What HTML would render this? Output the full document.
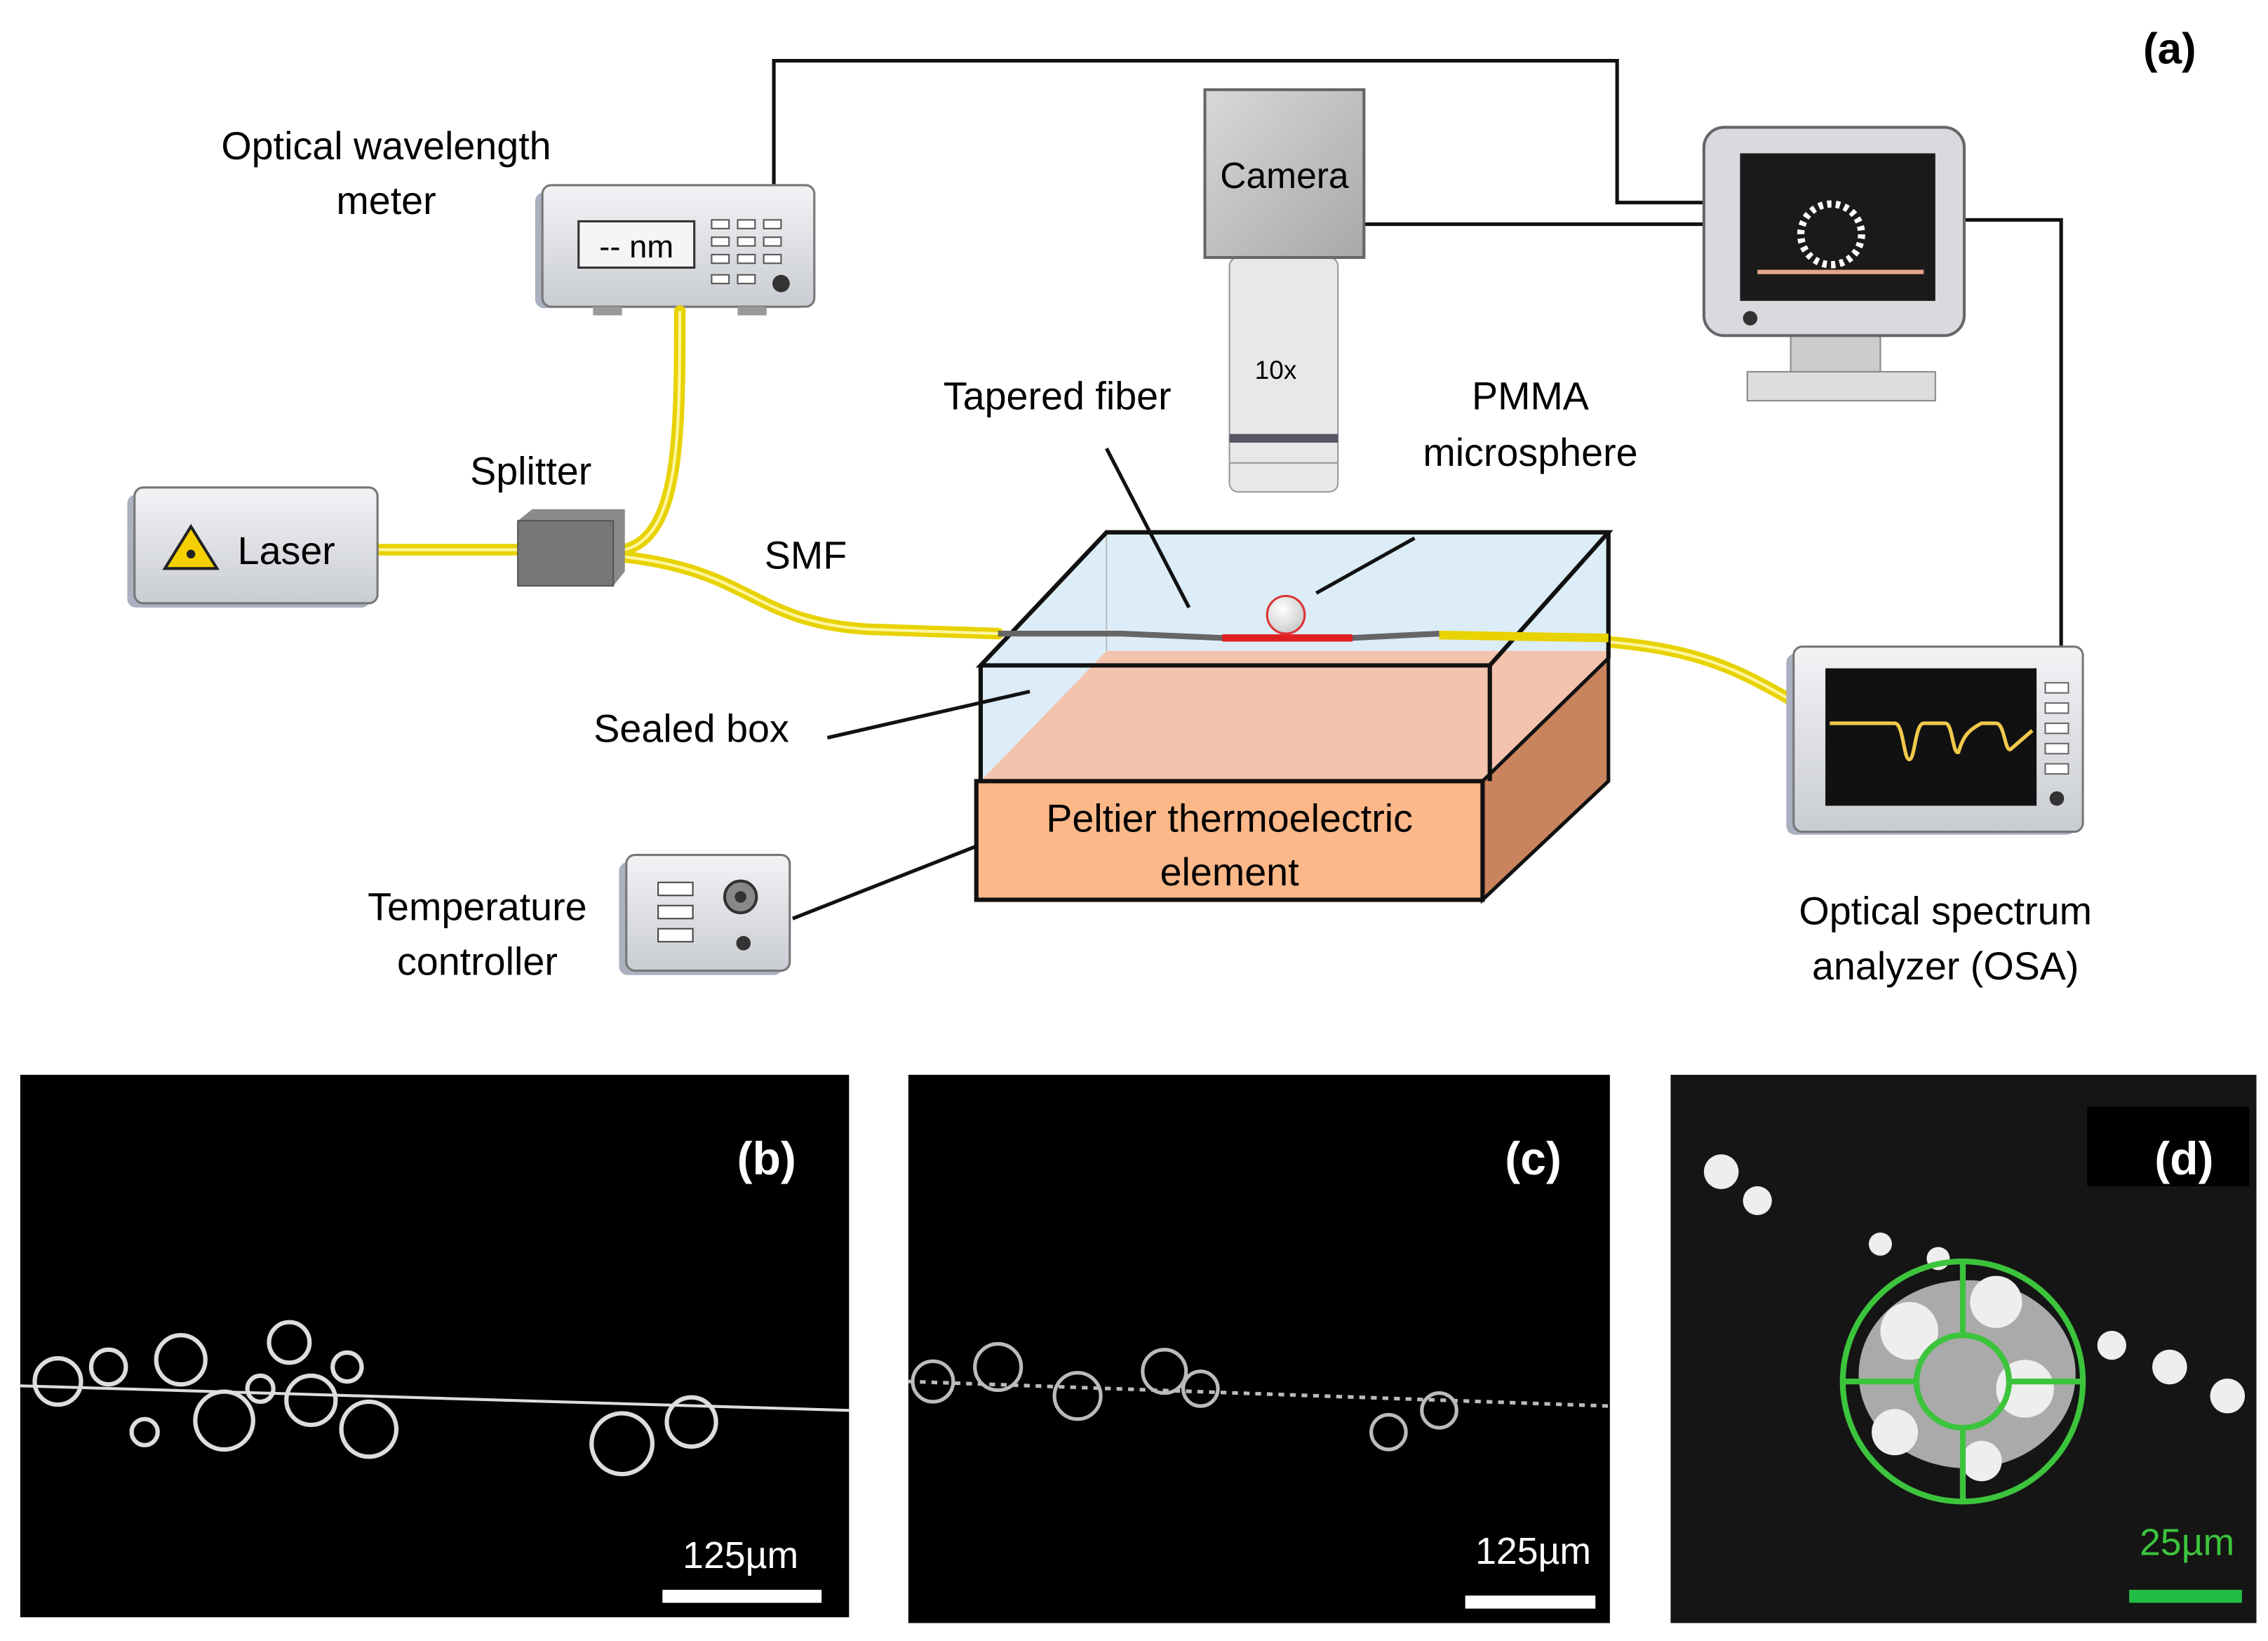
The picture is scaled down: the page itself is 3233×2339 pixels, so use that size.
<!DOCTYPE html>
<html><head><meta charset="utf-8"><style>
html,body{margin:0;padding:0;background:#fff;}
svg{display:block;}
text{font-family:"Liberation Sans",sans-serif;}
</style></head><body>
<svg width="3233" height="2339" viewBox="0 0 1568 1134.4" preserveAspectRatio="none" xmlns="http://www.w3.org/2000/svg">
<defs>
<linearGradient id="dev" x1="0" y1="0" x2="0" y2="1"><stop offset="0" stop-color="#f2f3f5"/><stop offset="1" stop-color="#c9ccd2"/></linearGradient>
<linearGradient id="cam" x1="0" y1="0" x2="1" y2="1"><stop offset="0" stop-color="#d8d8d8"/><stop offset="1" stop-color="#a8a8a8"/></linearGradient>
<radialGradient id="sph" cx="0.4" cy="0.35" r="0.7"><stop offset="0" stop-color="#fff"/><stop offset="1" stop-color="#c8c8c8"/></radialGradient>
</defs>
<rect width="1568" height="1135" fill="#fff"/>
<text x="1500" y="44" font-size="30" font-weight="bold" text-anchor="middle">(a)</text>

<!-- wires -->
<g stroke="#111" stroke-width="2.5" fill="none">
<polyline points="535,128 535,42 1118,42 1118,140 1180,140"/>
<polyline points="943,155 1180,155"/>
<polyline points="1358,152 1425,152 1425,447"/>
<line x1="548" y1="635" x2="675" y2="585"/>
</g>

<!-- wavelength meter -->
<rect x="370" y="133" width="188" height="80" rx="6" fill="#aab0c0"/>
<rect x="375" y="128" width="188" height="84" rx="6" fill="url(#dev)" stroke="#777" stroke-width="1.5"/>
<rect x="400" y="153" width="80" height="32" fill="#f5f5f5" stroke="#333" stroke-width="1.5"/>
<text x="440" y="178" font-size="22" text-anchor="middle">-- nm</text>
<g fill="#fff" stroke="#555" stroke-width="1">
<rect x="492" y="152" width="12" height="6"/><rect x="510" y="152" width="12" height="6"/><rect x="528" y="152" width="12" height="6"/>
<rect x="492" y="164" width="12" height="6"/><rect x="510" y="164" width="12" height="6"/><rect x="528" y="164" width="12" height="6"/>
<rect x="492" y="176" width="12" height="6"/><rect x="510" y="176" width="12" height="6"/><rect x="528" y="176" width="12" height="6"/>
<rect x="492" y="190" width="12" height="6"/><rect x="510" y="190" width="12" height="6"/>
</g>
<circle cx="540" cy="196" r="6" fill="#333"/>
<rect x="410" y="212" width="20" height="6" fill="#999"/><rect x="510" y="212" width="20" height="6" fill="#999"/>
<text x="267" y="110" font-size="27" text-anchor="middle">Optical wavelength</text>
<text x="267" y="148" font-size="27" text-anchor="middle">meter</text>

<!-- camera -->
<rect x="850" y="178" width="75" height="162" rx="6" fill="#e8e8ea" stroke="#999"/>
<rect x="850" y="300" width="75" height="6" fill="#556"/>
<line x1="850" y1="320" x2="925" y2="320" stroke="#999"/>
<rect x="833" y="62" width="110" height="116" fill="url(#cam)" stroke="#666" stroke-width="2"/>
<text x="888" y="130" font-size="25" text-anchor="middle">Camera</text>
<text x="882" y="262" font-size="18" text-anchor="middle">10x</text>

<!-- monitor -->
<rect x="1238" y="230" width="62" height="30" fill="#ccc" stroke="#888"/>
<rect x="1208" y="257" width="130" height="20" fill="#ddd" stroke="#888"/>
<rect x="1178" y="88" width="180" height="144" rx="14" fill="#d8dadf" stroke="#666" stroke-width="2"/>
<rect x="1203" y="106" width="135" height="102" fill="#1a1a1a"/>
<line x1="1215" y1="188" x2="1330" y2="188" stroke="#e8a58a" stroke-width="3"/>
<circle cx="1266" cy="162" r="21" fill="none" stroke="#fff" stroke-width="5" stroke-dasharray="3 3"/>
<circle cx="1210" cy="220" r="5" fill="#333"/>

<!-- yellow fibers -->
<g stroke="#e8d200" stroke-width="8" fill="none" stroke-linecap="round">
<line x1="260" y1="380" x2="360" y2="380"/>
<path d="M432,380 C470,370 470,300 470,215"/>
<path d="M432,385 C520,395 520,430 600,435 L690,438"/>
<path d="M995,440 C1150,440 1180,450 1240,485"/>
</g>
<g stroke="#fff6a0" stroke-width="2" fill="none">
<line x1="260" y1="380" x2="360" y2="380"/>
<path d="M432,380 C470,370 470,300 470,215"/>
<path d="M432,385 C520,395 520,430 600,435 L690,438"/>
<path d="M995,440 C1150,440 1180,450 1240,485"/>
</g>

<!-- laser -->
<rect x="88" y="342" width="168" height="78" rx="6" fill="#aab0c0"/>
<rect x="93" y="337" width="168" height="80" rx="6" fill="url(#dev)" stroke="#777" stroke-width="1.5"/>
<polygon points="132,364 114,393 150,393" fill="#f5d000" stroke="#222" stroke-width="2"/>
<circle cx="132" cy="383" r="3" fill="#222"/>
<text x="198" y="390" font-size="27" text-anchor="middle">Laser</text>

<!-- splitter -->
<polygon points="358,360 368,352 432,352 432,395 424,405 358,405" fill="#8a8a8a"/>
<rect x="358" y="360" width="66" height="45" fill="#777" stroke="#555"/>
<text x="367" y="335" font-size="27" text-anchor="middle">Splitter</text>
<text x="557" y="393" font-size="27" text-anchor="middle">SMF</text>

<!-- box -->
<polygon points="765,368 1112,368 1030,460 678,460" fill="#dcedf7"/>
<polygon points="678,460 1030,460 1030,540 678,540" fill="#dcedf7"/>
<polygon points="1030,460 1112,368 1112,455 1030,540" fill="#dcedf7"/>
<polygon points="765,450 1112,450 1112,455 1030,540 678,540" fill="#f4c3ae"/>
<polygon points="1025,540 1112,455 1112,540 1025,622" fill="#c9835d" stroke="#111" stroke-width="2.5"/>
<rect x="675" y="540" width="350" height="82" fill="#fdb88a" stroke="#111" stroke-width="3"/>
<text x="850" y="575" font-size="27" text-anchor="middle">Peltier thermoelectric</text>
<text x="850" y="612" font-size="27" text-anchor="middle">element</text>
<line x1="765" y1="368" x2="765" y2="450" stroke="#bbb"/>
<g stroke="#111" stroke-width="3" fill="none">
<polygon points="765,368 1112,368 1030,460 678,460"/>
<line x1="678" y1="460" x2="678" y2="540"/>
<line x1="1030" y1="460" x2="1030" y2="540"/>
<line x1="1112" y1="368" x2="1112" y2="455"/>
</g>
<g stroke="#e8d200" stroke-width="6" fill="none"><line x1="995" y1="439" x2="1112" y2="441"/></g>
<path d="M690,438 L775,438 L845,441 L935,441 L995,438" stroke="#666" stroke-width="4" fill="none"/>
<line x1="845" y1="441" x2="935" y2="441" stroke="#e02020" stroke-width="5"/>
<circle cx="889" cy="425" r="13" fill="url(#sph)" stroke="#d33" stroke-width="1.5"/>
<g stroke="#111" stroke-width="2.5" fill="none">
<line x1="572" y1="510" x2="712" y2="478"/>
<line x1="765" y1="310" x2="822" y2="420"/>
<line x1="978" y1="372" x2="910" y2="410"/>
</g>
<text x="731" y="283" font-size="27" text-anchor="middle">Tapered fiber</text>
<text x="1058" y="283" font-size="27" text-anchor="middle">PMMA</text>
<text x="1058" y="322" font-size="27" text-anchor="middle">microsphere</text>
<text x="478" y="513" font-size="27" text-anchor="middle">Sealed box</text>

<!-- temp controller -->
<rect x="428" y="596" width="113" height="78" rx="6" fill="#aab0c0"/>
<rect x="433" y="591" width="113" height="80" rx="6" fill="url(#dev)" stroke="#777" stroke-width="1.5"/>
<g fill="#fff" stroke="#444"><rect x="455" y="610" width="24" height="9"/><rect x="455" y="626" width="24" height="9"/><rect x="455" y="642" width="24" height="9"/></g>
<circle cx="512" cy="620" r="11" fill="#888" stroke="#333" stroke-width="2"/><circle cx="512" cy="620" r="4" fill="#333"/>
<circle cx="514" cy="652" r="5" fill="#333"/>
<text x="330" y="636" font-size="27" text-anchor="middle">Temperature</text>
<text x="330" y="674" font-size="27" text-anchor="middle">controller</text>

<!-- OSA -->
<rect x="1235" y="452" width="200" height="125" rx="6" fill="#aab0c0"/>
<rect x="1240" y="447" width="200" height="128" rx="6" fill="url(#dev)" stroke="#777" stroke-width="1.5"/>
<rect x="1262" y="462" width="146" height="95" fill="#111"/>
<path d="M1265,500 L1310,500 C1316,500 1316,525 1320,525 C1324,525 1324,500 1330,500 L1345,500 C1350,500 1350,522 1354,520 C1357,510 1360,505 1370,500 L1380,500 C1386,500 1386,520 1390,518 L1405,505" stroke="#f2c94c" stroke-width="2.5" fill="none"/>
<g fill="#fff" stroke="#666"><rect x="1414" y="472" width="16" height="7"/><rect x="1414" y="486" width="16" height="7"/><rect x="1414" y="500" width="16" height="7"/><rect x="1414" y="514" width="16" height="7"/><rect x="1414" y="528" width="16" height="7"/></g>
<circle cx="1422" cy="552" r="5" fill="#333"/>
<text x="1345" y="639" font-size="27" text-anchor="middle">Optical spectrum</text>
<text x="1345" y="677" font-size="27" text-anchor="middle">analyzer (OSA)</text>

<!-- (b) -->
<rect x="14" y="743" width="573" height="375" fill="#000"/>
<g stroke="#ddd" fill="none" stroke-width="3">
<line x1="14" y1="958" x2="587" y2="975" stroke-width="2"/>
<circle cx="40" cy="955" r="16"/><circle cx="75" cy="945" r="12"/><circle cx="125" cy="940" r="17"/>
<circle cx="155" cy="982" r="20"/><circle cx="200" cy="928" r="14"/><circle cx="215" cy="968" r="17"/>
<circle cx="255" cy="988" r="19"/><circle cx="240" cy="945" r="10"/><circle cx="430" cy="998" r="21"/><circle cx="478" cy="983" r="17"/>
<circle cx="100" cy="990" r="9"/><circle cx="180" cy="960" r="9"/>
</g>
<rect x="474" y="765" width="107" height="55" fill="#000"/>
<text x="530" y="812" font-size="32" font-weight="bold" fill="#fff" text-anchor="middle">(b)</text>
<text x="512" y="1084" font-size="26" fill="#fff" text-anchor="middle">125µm</text>
<rect x="458" y="1099" width="110" height="9" fill="#fff"/>

<!-- (c) -->
<rect x="628" y="743" width="485" height="379" fill="#000"/>
<g stroke="#bbb" fill="none" stroke-width="2.5">
<line x1="628" y1="955" x2="1113" y2="972" stroke-dasharray="4 4"/>
<circle cx="645" cy="955" r="14"/><circle cx="690" cy="945" r="16"/><circle cx="745" cy="965" r="16"/>
<circle cx="805" cy="948" r="15"/><circle cx="830" cy="960" r="12"/><circle cx="960" cy="990" r="12"/><circle cx="995" cy="975" r="12"/>
</g>
<rect x="976" y="765" width="107" height="55" fill="#000"/>
<text x="1060" y="812" font-size="32" font-weight="bold" fill="#fff" text-anchor="middle">(c)</text>
<text x="1060" y="1081" font-size="26" fill="#fff" text-anchor="middle">125µm</text>
<rect x="1013" y="1103" width="90" height="9" fill="#fff"/>

<!-- (d) -->
<rect x="1155" y="743" width="405" height="379" fill="#151515"/>
<g fill="#eee">
<circle cx="1190" cy="810" r="12"/><circle cx="1215" cy="830" r="10"/>
<ellipse cx="1360" cy="950" rx="75" ry="65" fill="#aaa"/>
<circle cx="1320" cy="920" r="20"/><circle cx="1380" cy="900" r="18"/><circle cx="1400" cy="960" r="20"/><circle cx="1310" cy="990" r="16"/><circle cx="1370" cy="1010" r="14"/>
<circle cx="1460" cy="930" r="10"/><circle cx="1500" cy="945" r="12"/><circle cx="1540" cy="965" r="12"/><circle cx="1300" cy="860" r="8"/><circle cx="1340" cy="870" r="8"/>
</g>
<g stroke="#3cc43c" stroke-width="4" fill="none">
<circle cx="1357" cy="955" r="83"/><circle cx="1357" cy="955" r="32"/>
<line x1="1274" y1="955" x2="1325" y2="955"/><line x1="1389" y1="955" x2="1440" y2="955"/>
<line x1="1357" y1="872" x2="1357" y2="923"/><line x1="1357" y1="987" x2="1357" y2="1038"/>
</g>
<rect x="1443" y="765" width="112" height="55" fill="#000"/>
<text x="1510" y="812" font-size="32" font-weight="bold" fill="#fff" text-anchor="middle">(d)</text>
<text x="1512" y="1075" font-size="26" fill="#3cc43c" text-anchor="middle">25µm</text>
<rect x="1472" y="1099" width="78" height="9" fill="#22bb44"/>
</svg>
</body></html>
